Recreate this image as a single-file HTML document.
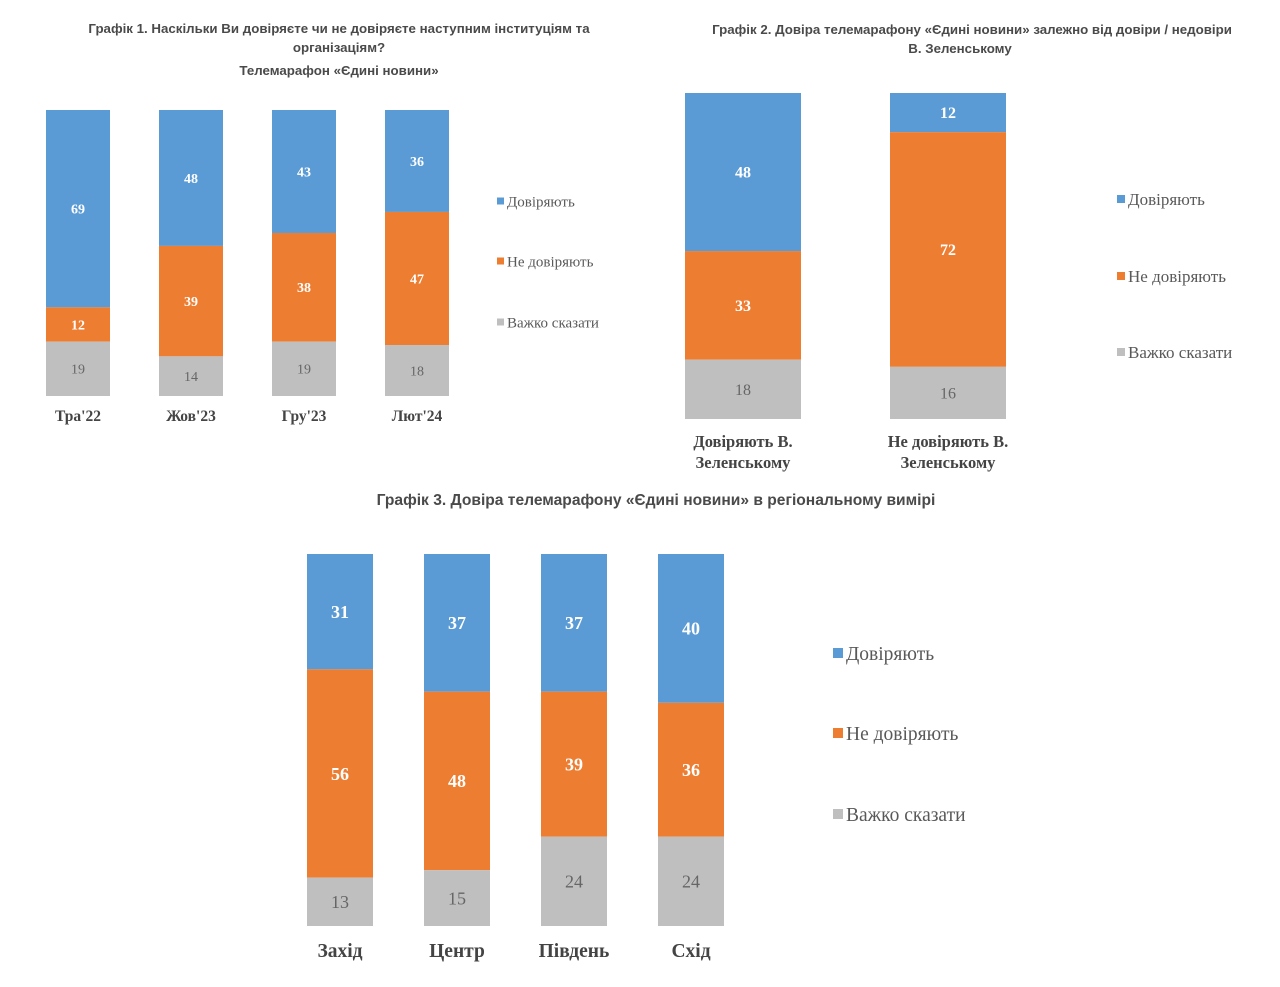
<!DOCTYPE html>
<html><head><meta charset="utf-8"><style>
html,body{margin:0;padding:0;background:#fff;width:1280px;height:987px;overflow:hidden}
svg{display:block}
.t{font-family:"Liberation Sans",sans-serif;font-weight:bold;fill:#4a4a4a;text-anchor:middle}
.s{font-family:"Liberation Serif",serif}
</style></head><body>
<svg id="svg" width="1280" height="987" xmlns="http://www.w3.org/2000/svg">
<text class="t" x="339" y="33" font-size="13.3">Графік 1. Наскільки Ви довіряєте чи не довіряєте наступним інституціям та</text>
<text class="t" x="339" y="52" font-size="13.3">організаціям?</text>
<text class="t" x="339" y="75" font-size="13.3">Телемарафон «Єдині новини»</text>
<text class="t" x="972" y="34" font-size="13.3">Графік 2. Довіра телемарафону «Єдині новини» залежно від довіри / недовіри</text>
<text class="t" x="960" y="53" font-size="13.3">В. Зеленському</text>
<text class="t" x="656" y="505" font-size="15.6">Графік 3. Довіра телемарафону «Єдині новини» в регіональному вимірі</text>
</svg>
<script>
const seriesNames = ["Довіряють","Не довіряють","Важко сказати"];
const colors = ["#5b9bd5","#ed7d31","#bfbfbf"];
const c1Categories = ["Тра'22","Жов'23","Гру'23","Лют'24"];
const c1Trust = [69,48,43,36];
const c1Distrust = [12,39,38,47];
const c1Hard = [19,14,19,18];
const c2Categories = [["Довіряють В.","Зеленському"],["Не довіряють В.","Зеленському"]];
const c2Trust = [48,12];
const c2Distrust = [33,72];
const c2Hard = [18,16];
const c3Categories = ["Захід","Центр","Південь","Схід"];
const c3Trust = [31,37,37,40];
const c3Distrust = [56,48,39,36];
const c3Hard = [13,15,24,24];

const svg = document.getElementById('svg');
const NS = "http://www.w3.org/2000/svg";
function mk(tag, attrs){const e=document.createElementNS(NS,tag);for(const k in attrs)e.setAttribute(k,attrs[k]);svg.appendChild(e);return e;}

function chart(id, cats, trust, distrust, hard, cfg){
  const series=[trust,distrust,hard];
  cats.forEach((cat,i)=>{
    const x = cfg.x0 + i*cfg.step;
    const total = trust[i]+distrust[i]+hard[i];
    const yScale = v => v/total*(cfg.bottom-cfg.top);
    let y = cfg.top;
    series.forEach((s,k)=>{
      const h = yScale(s[i]);
      const r = mk('rect',{x:x,y:y,width:cfg.w,height:h,fill:colors[k]});
      
      
      const t = mk('text',{x:x+cfg.w/2,y:y+h/2+cfg.fs*0.35,'text-anchor':'middle','font-size':cfg.fs,class:'s','font-weight':k<2?'bold':'normal',fill:k<2?'#fff':'#666'});
      t.textContent = s[i];
      
      
      y += h;
    });
    const lines = Array.isArray(cat)?cat:[cat];
    lines.forEach((ln,j)=>{
      const t = mk('text',{x:x+cfg.w/2,y:cfg.catY+j*cfg.catLh,'text-anchor':'middle','font-size':cfg.catFs,class:'s','font-weight':'bold',fill:'#444'});
      t.textContent = ln;
      
      
    });
  });
  seriesNames.forEach((n,k)=>{
    const ly = cfg.legY[k];
    const sq = mk('rect',{x:cfg.legX,y:ly-cfg.sq/2,width:cfg.sq,height:cfg.sq,fill:colors[k]});
    
    
    const t = mk('text',{x:cfg.legX+cfg.sq+3,y:ly+cfg.legFs*0.35,'font-size':cfg.legFs,class:'s',fill:'#595959'});
    t.textContent = n;
    
    
  });
}
chart('chart1',c1Categories,c1Trust,c1Distrust,c1Hard,{x0:46,step:113,w:64,top:110,bottom:396,fs:14,catY:421,catLh:18,catFs:15.5,legX:497,legY:[201,261,322],legFs:15,sq:7});
chart('chart2',c2Categories,c2Trust,c2Distrust,c2Hard,{x0:685,step:205,w:116,top:93,bottom:419,fs:16,catY:447,catLh:21,catFs:16.5,legX:1117,legY:[199,276,352],legFs:17,sq:8});
chart('chart3',c3Categories,c3Trust,c3Distrust,c3Hard,{x0:307,step:117,w:66,top:554,bottom:926,fs:18,catY:957,catLh:20,catFs:19.5,legX:833,legY:[653,733,814],legFs:19.5,sq:10});
</script>
</body></html>
